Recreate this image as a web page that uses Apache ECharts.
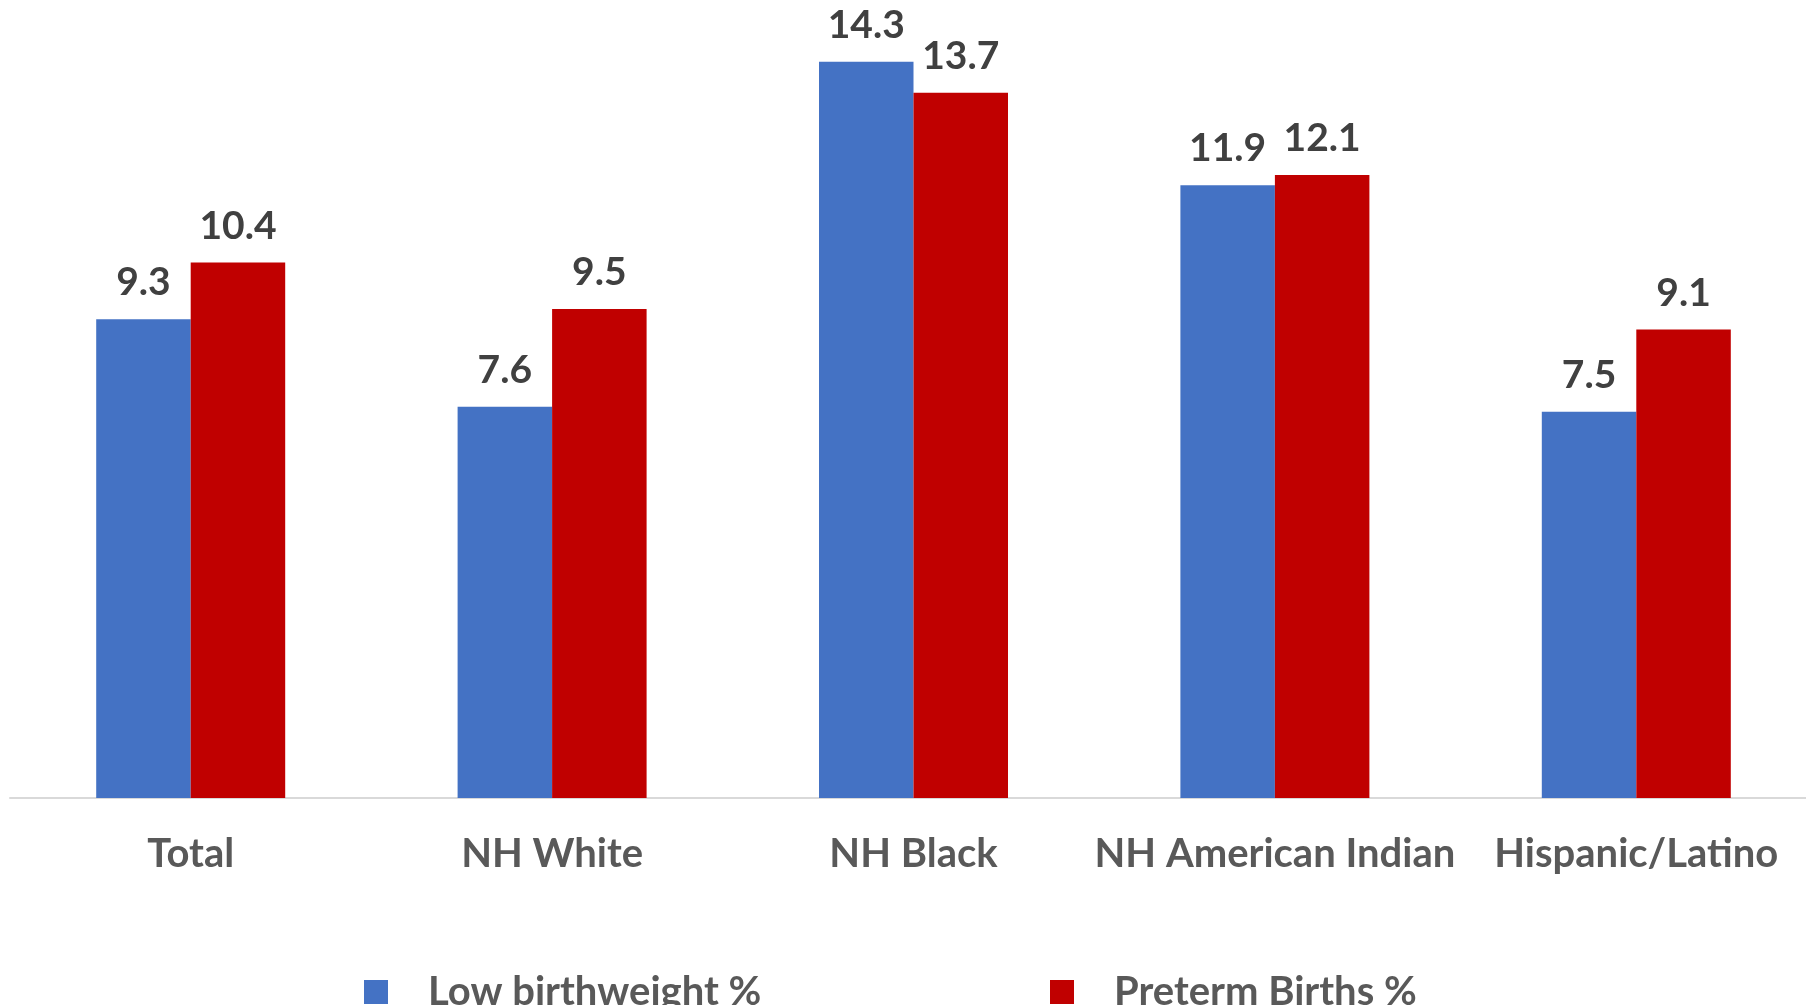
<!DOCTYPE html>
<html>
<head>
<meta charset="utf-8">
<script src="https://cdn.jsdelivr.net/npm/echarts@6/dist/echarts.min.js"></script>
<style>
html,body{margin:0;padding:0;background:#fff;overflow:hidden;width:1806px;height:1005px;}
#chart{width:1820px;height:1005px;}
</style>
</head>
<body>
<div id="chart"></div>
<script>
const categories = ['Total', 'NH White', 'NH Black', 'NH American Indian', 'Hispanic/Latino'];
const lowBirthweight = [9.3, 7.6, 14.3, 11.9, 7.5];
const pretermBirths = [10.4, 9.5, 13.7, 12.1, 9.1];
const seriesNames = ['Low birthweight %', 'Preterm Births %'];

const FONT = 'Lato';
const chart = echarts.init(document.getElementById('chart'), null, {renderer: 'canvas'});
const labelStyle = {
  show: true, position: 'top', distance: 17,
  color: '#404040', fontFamily: FONT, fontWeight: 'bold', fontSize: 39
};
const legendText = {color: '#595959', fontFamily: FONT, fontWeight: 'bold', fontSize: 40, padding: [0,0,0,35]};
chart.setOption({
  animation: false,
  backgroundColor: '#ffffff',
  grid: {left: 10, width: 1807, top: 0, bottom: 207, containLabel: false},
  legend: [
    {data: [seriesNames[0]], left: 359, top: 967, itemWidth: 24, itemHeight: 24, icon: 'rect', textStyle: legendText},
    {data: [seriesNames[1]], left: 1045, top: 967, itemWidth: 24, itemHeight: 24, icon: 'rect', textStyle: legendText}
  ],
  xAxis: {
    type: 'category', data: categories,
    axisLine: {show: true, lineStyle: {color: '#d9d9d9', width: 2}},
    axisTick: {show: false},
    axisLabel: {color: '#595959', fontFamily: FONT, fontWeight: 'bold', fontSize: 40, margin: 36, interval: 0}
  },
  yAxis: {
    type: 'value', min: 0, max: 15.5,
    show: false, splitLine: {show: false}
  },
  series: [
    {name: seriesNames[0], type: 'bar', data: lowBirthweight, barWidth: 94.5, barGap: '0%',
     itemStyle: {color: '#4472C4'}, label: labelStyle},
    {name: seriesNames[1], type: 'bar', data: pretermBirths, barWidth: 94.5, barGap: '0%',
     itemStyle: {color: '#C00000'}, label: labelStyle}
  ]
});
</script>
</body>
</html>
